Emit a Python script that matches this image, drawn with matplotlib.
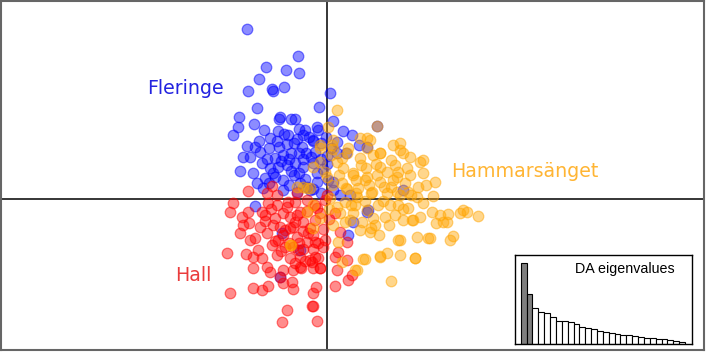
import matplotlib
matplotlib.use("Agg")
import matplotlib.pyplot as plt
from matplotlib.colors import to_rgba

# DAPC scores (LD1, LD2)
fleringe_x = [-8.0, -2.9, -6.1, -4.1, -2.8, -6.8, -7.9, -5.5, -5.4, -4.3, 0.3, -7.0, -0.8,
              -8.8, -4.7, -4.8, -3.6, -3.2, 0.6, -8.9, -7.3, -9.4, -6.3, -4.9, -4.3, -2.8,
              -2.2, -2.4, -1.0, -0.9, 1.6, 2.5, -8.0, -7.2, -6.8, -5.7, -4.8, -4.0, -3.3,
              -2.5, -1.4, -0.6, -0.1, 0.4, 1.0, -8.4, -7.7, -6.7, -5.8, -5.2, -4.4, -3.6,
              -2.8, -2.1, -1.2, 0.0, 1.0, 1.9, 3.2, 4.0, -8.7, -7.4, -6.5, -5.7, -4.9,
              -4.0, -3.2, -2.4, -1.4, 0.0, -7.0, -6.2, -5.2, -4.4, -3.3, -2.7, -2.0, -1.0,
              0.1, -6.4, -4.4, -3.0, -1.7, 0.6, -7.2, -4.5, -4.7, -2.7, 2.6, 2.1, 1.3,
              4.0, 7.6, 5.0, 4.1, 2.3, 0.6, -1.4,
              -5.0, -3.9, -3.0, -1.8, -6.0, -4.6, -3.8, -2.4, -1.6, -0.6, -5.4, -3.6,
              -2.8, -1.0, -0.4, -5.8, -3.8, -1.4, -0.6, -2.2]
fleringe_y = [17.0, 14.3, 13.2, 12.9, 12.6, 12.0, 10.8, 11.0, 10.8, 11.2, 10.6, 9.1, 9.2,
              8.2, 8.2, 8.0, 8.0, 8.0, 7.8, 7.2, 7.5, 6.4, 6.9, 6.8, 6.5, 7.0,
              6.9, 6.4, 7.2, 6.9, 6.8, 6.4, 5.3, 5.2, 5.8, 6.1, 5.2, 5.5, 5.6,
              5.2, 5.8, 5.6, 6.2, 5.1, 5.7, 4.2, 4.2, 4.7, 5.1, 4.1, 4.4, 4.6,
              4.6, 4.6, 4.7, 4.3, 4.6, 4.6, 5.4, 5.2, 2.8, 2.6, 3.6, 3.1, 3.2,
              3.4, 3.6, 3.2, 3.6, 3.5, 1.6, 2.1, 2.2, 1.9, 2.4, 1.6, 1.2, 1.7,
              1.9, 1.1, 0.9, 0.7, 0.9, 0.9, -0.7, -3.4, -7.8, -5.1, -2.3, -3.6, 0.4,
              -1.3, 0.9, 7.3, -1.1, 0.4, 1.7, 5.9,
              5.8, 6.4, 6.0, 6.2, 4.0, 3.8, 4.0, 4.0, 4.2, 4.0, 2.6, 2.8,
              2.6, 2.6, 3.0, 1.6, 1.4, 1.0, 0.6, 2.0]

hall_x = [-7.9, -5.5, -9.4, -9.7, -8.5, -7.9, -8.4, -7.8, -8.7, -7.7, -7.2, -6.5, -5.9,
          -6.7, -10.0, -8.1, -6.5, -5.5, -6.0, -5.7, -4.4, -3.4, -4.9, -4.2, -3.7, -4.4,
          -2.7, -3.2, -2.0, -2.4, -1.7, -3.0, -2.0, -1.2, -2.7, -1.7, -0.9, -1.4, -0.7,
          -2.7, -9.7, -7.4, -6.5, -5.9, -4.4, -3.4, -3.5, -1.4, -1.1, -4.0, -1.4, -4.5,
          -1.0, 0.8, 2.1, 2.5, 1.0, 0.8, 2.0, 1.1, 2.0, 1.3, 0.8, -0.2, -5.2, -4.7,
          -3.7, -3.2, -4.2, -3.4, -3.7, -5.0, -2.4, -1.4, -1.9, -1.2, -0.7, -1.2, -0.2,
          0.0, -3.0, -3.9, -5.0, -6.0, -5.0, -6.2, -6.0, -6.9, -7.4, -7.4, -4.7, -2.9,
          -1.5, -1.2, -0.7, -2.6, -0.9, -1.5,
          -5.6, -4.0, -3.0, -2.0, -1.0, -5.4, -4.4, -3.4, -2.4, -1.4, -5.2, -3.8,
          -2.8, -4.6, -3.2, -2.2, -0.4, 0.2, -0.4, -6.2]
hall_y = [0.8, 1.3, -0.4, -1.3, -1.8, -1.3, -2.6, -2.4, -3.4, -4.1, -3.9, -1.3, -0.4,
          -2.8, -5.4, -5.5, -5.9, -4.6, -6.8, -7.3, -7.1, -7.1, -4.1, -3.1, -1.8, -1.4,
          -1.3, -0.3, -0.1, -2.3, -2.9, -3.8, -4.3, -4.3, -5.8, -6.1, -5.9, -6.9, -6.9,
          -6.8, -9.4, -8.9, -9.1, -8.7, -8.4, -9.0, -8.3, -9.4, -8.8, -11.1, -10.7, -12.3,
          -12.2, -8.7, -8.1, -7.6, -7.1, -5.8, -6.1, -5.3, -4.3, -3.3, -1.4, -4.1, -1.9, -2.8,
          -2.9, -2.3, -4.8, -4.8, -5.9, -5.6, -5.0, -5.0, -3.4, -2.1, -1.4, -0.6, -0.1,
          0.4, 0.6, -0.3, 0.4, 0.6, -0.6, -2.2, -3.4, -5.1, -5.8, -6.9, -7.8, -5.1,
          -6.3, -5.8, -6.9, -6.9, -4.4, -10.7,
          -1.0, -0.8, -1.6, -1.2, -0.9, -2.6, -3.6, -2.8, -3.2, -3.6, -4.2, -4.4,
          -4.4, -5.2, -6.4, -6.2, -3.0, -2.0, -4.8, -1.6]

hamm_x = [1.0, 0.1, 3.3, 4.0, 4.3, 5.3, 6.6, 6.4, 5.3, 4.0, 2.6, 1.6, 7.0, 5.7, 4.4,
          2.9, 1.9, 2.9, 5.3, 4.0, 2.1, 1.5, 3.3, 2.6, 3.9, 4.9, 6.0, 6.8, 6.6, 5.3,
          3.8, 3.1, 4.5, 6.0, 7.0, 5.1, 6.3, 4.0, 2.8, 1.8, 1.3, 2.3, 3.5, 4.6, 5.8,
          6.8, 0.3, 0.5, 1.5, -0.2, -0.7, -0.7, 0.5, 1.0, -1.7, -1.4, -2.0, -0.7, 0.6,
          7.3, 7.3, 8.3, 7.6, 9.3, 9.6, 8.0, 7.1, 8.3, 9.6, 10.8, 9.1, 9.9, 8.1, 10.6,
          7.3, 9.0, 7.1, 8.1, 9.6, 10.5, 11.3, 12.1, 13.3, 13.6, 15.1, 9.3, 8.5, 7.6,
          10.9, 12.0, 7.3, 9.0, 10.1, 12.3, 12.6, 7.3, 8.8, 3.0, 3.6, 3.8, 1.5, 5.3,
          6.0, 6.4, 5.2, 7.1, 4.3, 1.1, 5.3, 8.8, 2.8, 14.0, 10.3, 4.4, 3.3, -1.4,
          -3.7, 1.8, 2.6, 8.6, 11.6, -0.7, 0.6, -1.4, 0.0, -2.0, -3.0, 0.6, -2.4,
          -3.6, 5.0,
          2.0, 3.0, 4.2, 5.0, 6.4, 7.8, 1.2, 3.4, 4.6, 2.4, 3.8, 5.6, 7.6, 8.4,
          1.0, 0.2, 4.8, 6.2, 2.0, 0.4]
hamm_y = [8.9, 7.2, 6.1, 6.1, 5.9, 4.6, 5.4, 3.9, 3.2, 2.2, 2.6, 3.1, 2.2, 1.2, 0.6,
          0.6, 1.1, 1.9, 4.6, 5.1, 5.1, 4.1, 4.1, 2.4, 3.1, 3.5, 2.7, 3.4, 1.9, 1.7,
          1.9, 1.1, 0.7, 0.6, 0.7, -0.6, -0.6, -1.1, -0.6, -0.3, -1.4, -2.1, -2.3, -1.9, -1.8,
          -1.6, 0.1, 1.4, 1.6, 2.7, 3.7, 5.1, 5.4, 3.7, 1.1, -0.6, -1.3, -1.9, -2.6,
          5.6, 4.9, 4.2, 4.6, 3.7, 3.9, 3.1, 2.7, 2.4, 2.6, 1.7, 1.2, 1.4, 0.7, 0.3,
          0.4, 0.2, -0.6, -0.9, -0.4, -1.3, -1.6, -1.5, -1.4, -1.1, -1.7, -1.8, -2.1, -2.1,
          -2.4, -2.3, -4.1, -3.8, -3.9, -4.1, -3.7, -5.6, -5.9, -7.1, -6.0, -6.0, -6.3, -5.8,
          -5.4, -8.2, -3.6, -4.1, -3.3, -4.3, -5.7, -5.9, -7.1, -1.3, -3.9, -2.9, -3.1, -2.9,
          -4.6, -2.3, -1.4, -2.1, -2.3, 5.4, 5.0, 3.2, 2.2, 1.1, 1.2, 5.9, 1.2,
          -4.6, 7.3,
          1.0, 0.2, 1.4, 2.4, 1.2, 1.6, 2.4, 3.4, 4.4, -0.6, -0.2, -0.2, -1.0, 0.4,
          -0.8, -1.0, -2.6, -2.6, 4.6, 4.4]

eigenvalues = [243, 151, 107, 97, 93, 80, 70, 69, 66, 59, 52, 48, 45, 40, 36, 34, 30,
               28, 26, 23, 21, 18, 17, 15, 14, 12, 9, 7]
n_retained = 2

groups = [
    ("Fleringe", fleringe_x, fleringe_y, "#0000ff", "#2323e0", (-14.2, 11.0)),
    ("Hall", hall_x, hall_y, "#ff0000", "#ea3c3c", (-13.4, -7.7)),
    ("Hammarsänget", hamm_x, hamm_y, "#ffa500", "#ffb534", (19.75, 2.7)),
]

fig = plt.figure(figsize=(7.06, 3.52), dpi=100)
ax = fig.add_axes([0.0015, 0.006, 0.9955, 0.9915])

ax.axvline(0, color="black", lw=1.1, zorder=1)
ax.axhline(0, color="black", lw=1.1, zorder=1)

for name, xs, ys, col, labcol, labpos in groups:
    ax.scatter(xs, ys, s=58, facecolor=to_rgba(col, 0.45),
               edgecolor=to_rgba(col, 0.5), linewidth=0.9, zorder=2)
    ax.text(labpos[0], labpos[1], name, color=labcol, fontsize=13.7,
            ha="center", va="center", zorder=3)

ax.set_xlim(-32.6, 37.68)
ax.set_ylim(-15.09, 19.81)
ax.set_xticks([])
ax.set_yticks([])
for sp in ax.spines.values():
    sp.set_color("#666666")
    sp.set_linewidth(1.5)

# eigenvalue inset
ins = fig.add_axes([0.7295, 0.0227, 0.2507, 0.2528])
pos = range(1, len(eigenvalues) + 1)
bar_cols = ["#7f7f7f" if i < n_retained else "white" for i in range(len(eigenvalues))]
ins.bar(pos, eigenvalues, width=1.0, color=bar_cols, edgecolor="black", linewidth=0.8)
ins.set_xlim(-0.47, 29.69)
ins.set_ylim(0, max(eigenvalues) * 89 / 81)
ins.set_xticks([])
ins.set_yticks([])
for sp in ins.spines.values():
    sp.set_color("black")
    sp.set_linewidth(1.0)
ins.text(0.623, 0.843, "DA eigenvalues", transform=ins.transAxes,
         ha="center", va="center", fontsize=10.3, family="Liberation Sans")

fig.savefig("out.png", dpi=100)
